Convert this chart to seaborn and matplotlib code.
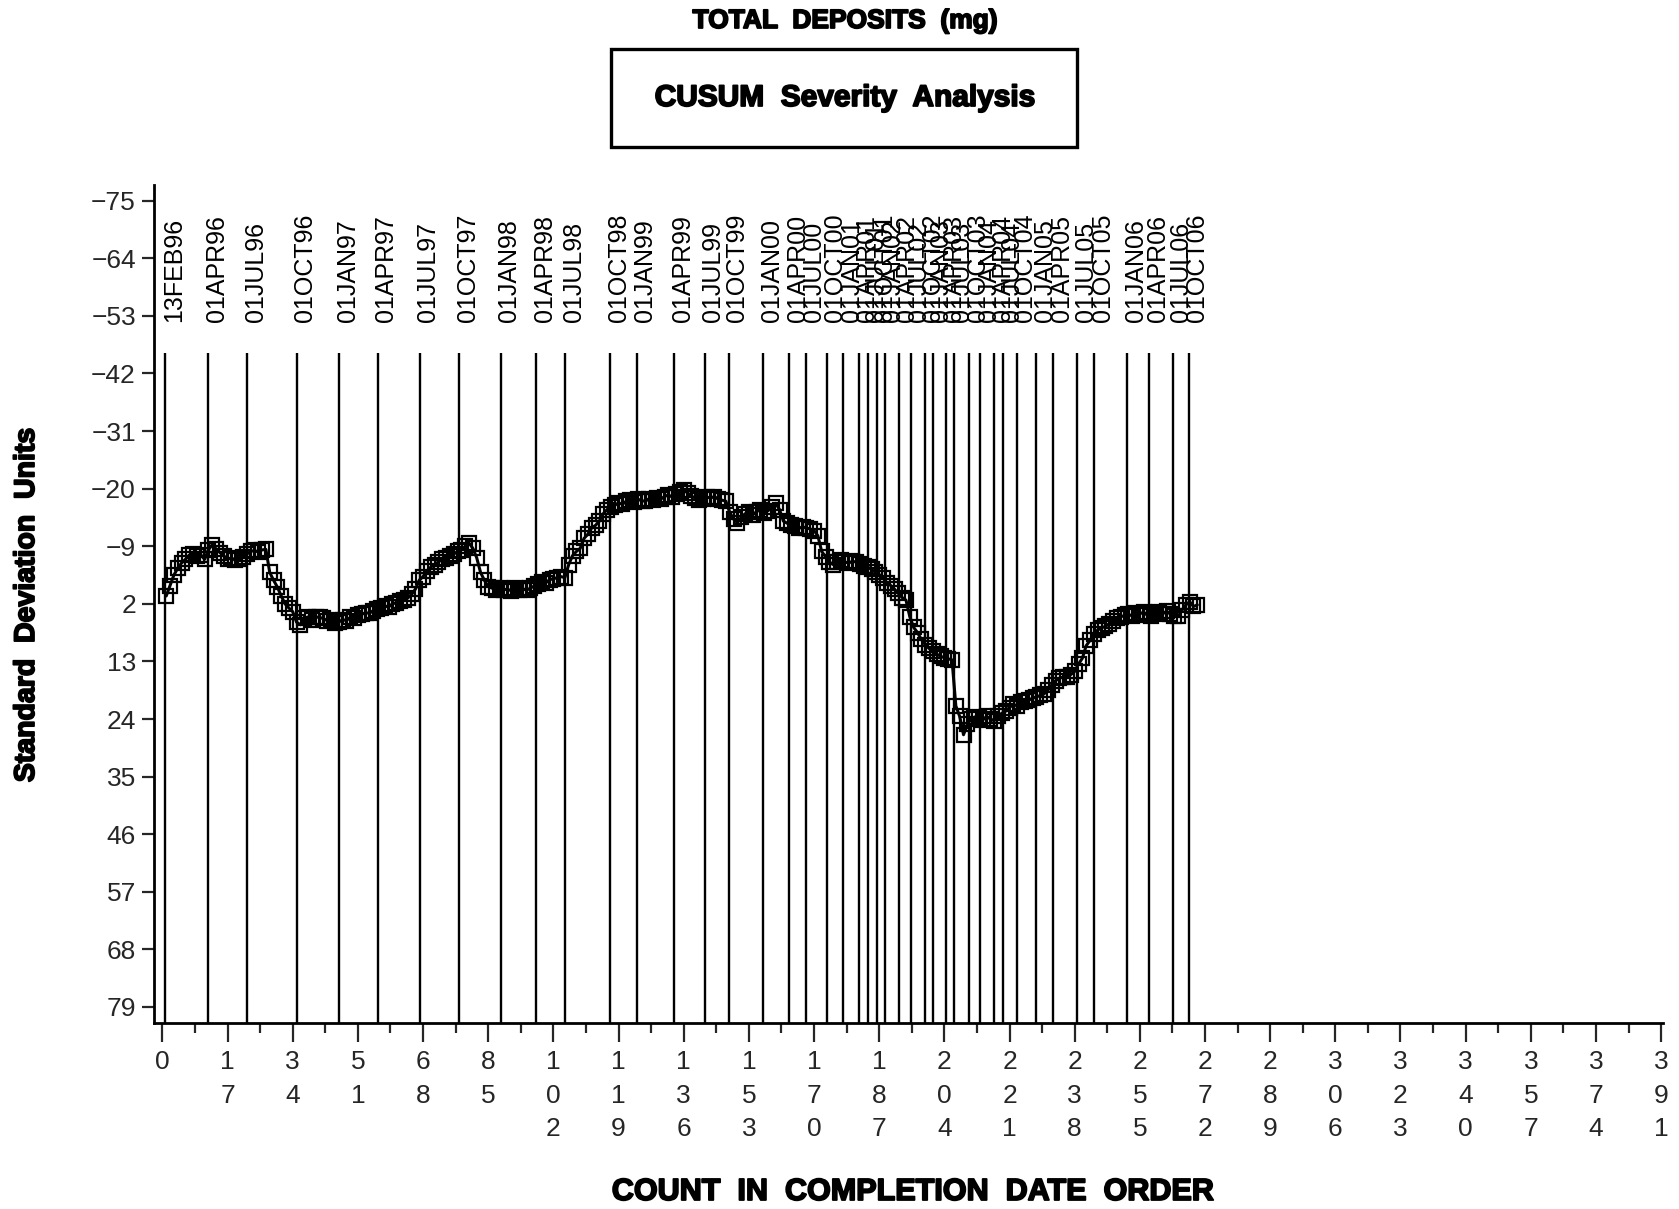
import matplotlib
matplotlib.use('Agg')
import matplotlib.pyplot as plt
import matplotlib.patheffects as pe
import seaborn as sns
import pandas as pd
from matplotlib.patches import Rectangle

# CUSUM values (standard deviation units), one per record
cusum = [
    0.5, -1.5, -3.5, -4.8, -5.8, -6.5, -7.3, -7.5, -7.2, -7.4,
    -6.5, -8.3, -9.3, -8.5, -7.8, -7.2, -6.5, -6.8, -6.3, -6.6,
    -7.0, -7.5, -8.0, -8.2, -7.9, -8.3, -8.4, -4.0, -2.5, -1.2,
    0.5, 2.0, 2.8, 3.5, 5.5, 6.0, 4.8, 4.5, 5.0, 4.5,
    4.6, 4.8, 5.2, 5.0, 5.6, 5.5, 5.0, 5.2, 4.6, 4.8,
    4.2, 4.0, 3.7, 3.8, 3.3, 3.0, 2.8, 2.4, 2.6, 2.0,
    1.8, 1.5, 1.2, 0.9, 0.2, -0.8, -2.5, -3.2, -4.3, -5.0,
    -5.5, -6.0, -6.5, -6.8, -7.2, -7.5, -8.0, -8.3, -9.0, -9.6,
    -8.6, -6.8, -4.0, -2.5, -1.3, -1.0, -0.6, -1.1, -0.7, -0.8,
    -0.5, -1.0, -0.7, -0.9, -0.6, -1.0, -1.4, -1.8, -2.2, -2.0,
    -2.6, -2.8, -3.0, -3.2, -3.0, -5.5, -7.2, -8.0, -8.6, -10.5,
    -11.3, -12.5, -13.0, -13.8, -15.2, -16.0, -16.5, -16.8, -17.3, -17.0,
    -17.6, -17.8, -17.5, -18.0, -17.7, -17.6, -18.1, -17.9, -18.2, -18.0,
    -18.5, -18.8, -18.4, -19.0, -19.4, -19.7, -19.2, -18.6, -18.2, -17.8,
    -18.0, -18.4, -18.2, -18.5, -18.0, -17.8, -17.6, -15.5, -14.2, -13.5,
    -14.5, -15.2, -15.5, -15.0, -15.6, -16.0, -15.4, -15.8, -16.5, -17.2,
    -16.0, -13.8, -13.4, -13.0, -12.8, -12.4, -12.7, -12.5, -12.3, -12.0,
    -11.0, -8.0, -7.0, -6.0, -5.5, -5.9, -6.3, -6.0, -5.8, -6.1,
    -6.0, -5.6, -5.2, -5.0, -4.6, -4.0, -3.6, -3.0, -2.0, -1.5,
    -0.8, 0.0, 0.8, 1.3, 4.5, 6.5, 7.5, 8.8, 9.8, 10.5,
    11.0, 11.6, 12.0, 12.3, 12.5, 12.7, 21.5, 23.5, 27.0, 25.0,
    24.0, 23.6, 23.8, 24.2, 23.5, 24.0, 24.3, 23.5, 22.9, 22.5,
    21.8, 21.2, 21.5, 20.8, 20.6, 20.4, 20.0, 19.8, 19.5, 19.2,
    18.5, 17.5, 16.7, 16.2, 16.0, 15.9, 15.5, 14.9, 13.5, 12.4,
    10.0, 9.0, 7.8, 7.0, 6.6, 6.3, 5.8, 5.2, 4.8, 4.5,
    4.2, 4.0, 4.3, 3.8, 3.9, 3.6, 4.2, 4.3, 3.8, 3.6,
    3.9, 3.4, 4.0, 4.3, 4.4, 3.2, 2.2, 1.6, 2.5, 2.2,
]
count = list(range(1, len(cusum) + 1))

# reference dates and where they fall in the count order
date_labels = [
    '13FEB96', '01APR96', '01JUL96', '01OCT96', '01JAN97', '01APR97', '01JUL97', '01OCT97',
    '01JAN98', '01APR98', '01JUL98', '01OCT98', '01JAN99', '01APR99', '01JUL99', '01OCT99',
    '01JAN00', '01APR00', '01JUL00', '01OCT00', '01JAN01', '01APR01', '01JUL01', '01OCT01',
    '01JAN02', '01APR02', '01JUL02', '01OCT02', '01JAN03', '01APR03', '01JUL03', '01OCT03',
    '01JAN04', '01APR04', '01JUL04', '01OCT04', '01JAN05', '01APR05', '01JUL05', '01OCT05',
    '01JAN06', '01APR06', '01JUL06', '01OCT06',
]
date_counts = [
    0.8, 12.0, 22.2, 35.1, 46.2, 56.2, 67.1, 77.5,
    88.3, 97.5, 105.1, 116.8, 123.8, 133.5, 141.5, 147.8,
    156.7, 163.5, 167.8, 173.3, 177.6, 181.7, 184.0, 186.4,
    188.5, 192.1, 195.2, 198.9, 201.0, 204.4, 206.5, 210.5,
    213.3, 217.0, 219.4, 222.9, 227.9, 232.4, 238.6, 243.1,
    251.7, 257.5, 263.6, 267.7,
]

x_ticks = list(range(0, 392, 17))
y_ticks = list(range(-75, 80, 11))


def make_plot():
    sns.set_style('ticks')
    plt.rcParams['font.family'] = ['Liberation Sans', 'DejaVu Sans']

    fig = plt.figure(figsize=(16.79, 12.09), dpi=100)
    ax = fig.add_axes([0.0917, 0.1541, 0.8988, 0.6929])

    # date reference lines with rotated labels above them
    ax.vlines(date_counts, ymin=-46, ymax=82, color='black', lw=1.7, zorder=1)
    for xc, lab in zip(date_counts, date_labels):
        ax.text(xc - 0.9, -51.8, lab, rotation=90, ha='left', va='bottom',
                fontsize=18, color='black')

    df = pd.DataFrame({'count': count, 'cusum': cusum})
    sns.lineplot(data=df, x='count', y='cusum', ax=ax, color='black', lw=2.2,
                 marker='s', markersize=10, markerfacecolor='none',
                 markeredgecolor='black', markeredgewidth=1.6, zorder=3)

    ax.set_xlim(-2.2, 391.5)
    ax.set_ylim(82, -78)

    ax.set_yticks(y_ticks)
    ax.set_yticklabels([str(v).replace('-', '\u2212') for v in y_ticks], fontsize=19)
    ax.set_xticks(x_ticks)
    ax.set_xticklabels(['\n'.join(str(v)) for v in x_ticks], fontsize=19,
                       linespacing=1.5, va='top')
    ax.set_xticks([v + 8.5 for v in x_ticks[:-1]], minor=True)

    ax.tick_params(axis='x', which='major', length=14, width=1.6, pad=6)
    ax.tick_params(axis='x', which='minor', length=7, width=1.6)
    ax.tick_params(axis='y', length=9, width=1.6, pad=4)
    for side in ['top', 'right']:
        ax.spines[side].set_visible(False)
    for side in ['left', 'bottom']:
        ax.spines[side].set_linewidth(2)
        ax.spines[side].set_color('black')

    ax.set_xlabel('')
    ax.set_ylabel('')

    # heavy block lettering for titles
    bold = dict(fontweight='bold', color='black',
                path_effects=[pe.withStroke(linewidth=1.3, foreground='black')])
    fig.text(27 / 1679, 0.4996, 'Standard  Deviation  Units', rotation=90,
             ha='center', va='center', fontsize=20.5, **bold)
    fig.text(912 / 1679, 1 - 1192 / 1209, 'COUNT  IN  COMPLETION  DATE  ORDER',
             ha='center', va='center', fontsize=22, **bold)
    fig.text(845 / 1679, 1 - 21 / 1209, 'TOTAL  DEPOSITS  (mg)',
             ha='center', va='center', fontsize=19, **bold)
    fig.patches.append(Rectangle((611 / 1679, 1 - 147 / 1209), 466 / 1679, 98 / 1209,
                                 transform=fig.transFigure, fill=False,
                                 edgecolor='black', lw=2.4))
    fig.text(845 / 1679, 1 - 98 / 1209, 'CUSUM  Severity  Analysis',
             ha='center', va='center', fontsize=21.5, **bold)

    fig.savefig('out.png', dpi=100)


if __name__ == '__main__':
    make_plot()
